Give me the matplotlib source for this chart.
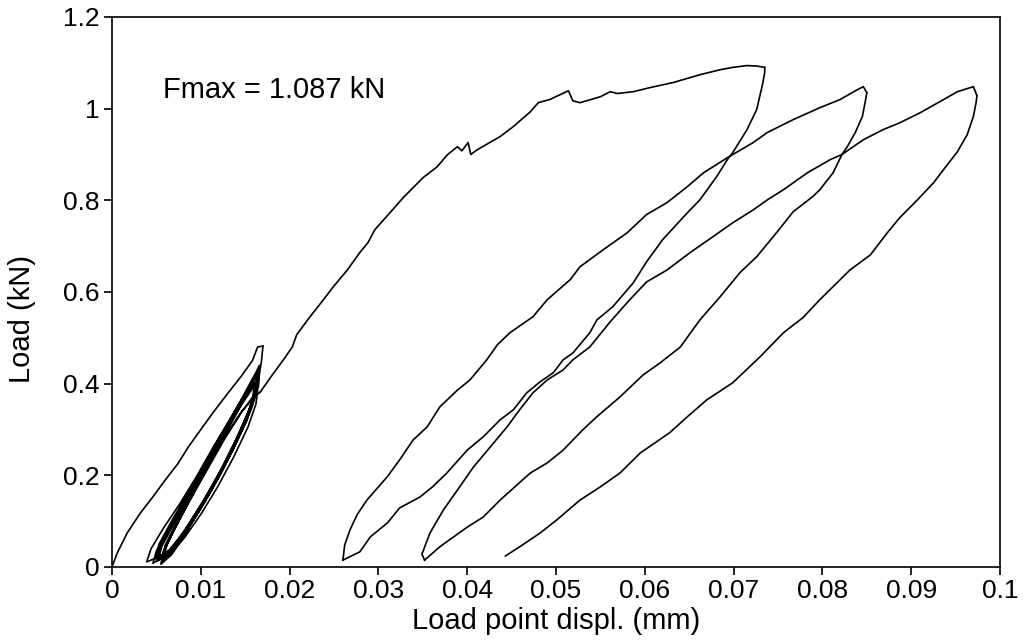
import matplotlib
matplotlib.use("Agg")
import matplotlib.pyplot as plt

plt.rcParams['font.family'] = ['Liberation Sans', 'DejaVu Sans']

# first ramp up to the first peak
ramp_x = [0.0, 0.0006, 0.0017, 0.0032, 0.0046, 0.0060, 0.0074, 0.0086, 0.0100, 0.0115, 0.0130, 0.0145, 0.0158, 0.0164, 0.0170]
ramp_y = [0.0, 0.031, 0.074, 0.118, 0.153, 0.190, 0.225, 0.262, 0.300, 0.340, 0.378, 0.415, 0.450, 0.480, 0.482]

# small cycles (unload / reload pairs)
cyc_x = [0.0170, 0.0168, 0.0163, 0.0150, 0.0132, 0.0110, 0.0086, 0.0062, 0.0039,
         0.0044, 0.0058, 0.0077, 0.0096, 0.0115, 0.0134, 0.0152, 0.0166,
         0.0165, 0.0158, 0.0143, 0.0125, 0.0105, 0.0083, 0.0064, 0.0046,
         0.0050, 0.0063, 0.0081, 0.0100, 0.0120, 0.0140, 0.0155, 0.0163,
         0.0162, 0.0153, 0.0138, 0.0120, 0.0100, 0.0080, 0.0066, 0.0052,
         0.0056, 0.0070, 0.0088, 0.0106, 0.0124, 0.0141, 0.0153, 0.0160,
         0.0158, 0.0148, 0.0132, 0.0115, 0.0097, 0.0080, 0.0068, 0.0057,
         0.0060, 0.0072, 0.0090, 0.0108, 0.0126, 0.0144, 0.0158, 0.0165,
         0.0164, 0.0156, 0.0140, 0.0122, 0.0103, 0.0082, 0.0065, 0.0049,
         0.0053, 0.0067, 0.0085, 0.0104, 0.0123, 0.0141, 0.0155, 0.0162,
         0.0161, 0.0152, 0.0136, 0.0118, 0.0099, 0.0080, 0.0066, 0.0055,
         0.0058, 0.0071, 0.0089, 0.0108, 0.0127, 0.0145, 0.0158, 0.0164,
         0.0162, 0.0153, 0.0137, 0.0119, 0.0100, 0.0082, 0.0069, 0.0058,
         0.0062, 0.0075, 0.0093, 0.0111, 0.0129, 0.0146, 0.0159, 0.0166,
         0.0165, 0.0157, 0.0141, 0.0123, 0.0104, 0.0083, 0.0066, 0.0050,
         0.0054, 0.0068, 0.0086, 0.0105, 0.0124, 0.0142, 0.0155, 0.0161,
         0.0160, 0.0151, 0.0135, 0.0117, 0.0098, 0.0080, 0.0067, 0.0056,
         0.0060, 0.0073, 0.0091, 0.0110, 0.0129, 0.0146, 0.0160, 0.0167]
cyc_y = [0.482, 0.445, 0.390, 0.320, 0.240, 0.160, 0.085, 0.030, 0.011,
         0.040, 0.085, 0.140, 0.200, 0.265, 0.325, 0.385, 0.440,
         0.410, 0.360, 0.290, 0.220, 0.150, 0.080, 0.030, 0.008,
         0.035, 0.080, 0.140, 0.205, 0.275, 0.340, 0.390, 0.420,
         0.390, 0.335, 0.270, 0.200, 0.135, 0.075, 0.035, 0.014,
         0.045, 0.095, 0.155, 0.220, 0.285, 0.340, 0.375, 0.395,
         0.360, 0.310, 0.245, 0.180, 0.120, 0.065, 0.030, 0.012,
         0.040, 0.090, 0.155, 0.225, 0.295, 0.360, 0.410, 0.430,
         0.400, 0.350, 0.280, 0.210, 0.145, 0.080, 0.038, 0.018,
         0.050, 0.100, 0.160, 0.225, 0.290, 0.350, 0.390, 0.405,
         0.375, 0.320, 0.255, 0.190, 0.125, 0.065, 0.025, 0.006,
         0.035, 0.085, 0.150, 0.215, 0.280, 0.335, 0.370, 0.385,
         0.355, 0.305, 0.240, 0.175, 0.115, 0.065, 0.035, 0.020,
         0.050, 0.100, 0.165, 0.230, 0.295, 0.355, 0.405, 0.425,
         0.395, 0.345, 0.275, 0.205, 0.140, 0.075, 0.032, 0.012,
         0.042, 0.092, 0.155, 0.220, 0.285, 0.345, 0.385, 0.400,
         0.370, 0.318, 0.252, 0.185, 0.122, 0.068, 0.033, 0.016,
         0.048, 0.098, 0.162, 0.228, 0.290, 0.340, 0.370, 0.382]

# big loading to Fmax
load_x = [0.0167, 0.0179, 0.0193, 0.0203, 0.0208, 0.0223, 0.0238, 0.0249, 0.0265, 0.0279, 0.0288,
          0.0296, 0.0313, 0.0328, 0.0350, 0.0366, 0.0378, 0.0389, 0.0394, 0.0401, 0.0404, 0.0411,
          0.0437, 0.0452, 0.0471, 0.0480, 0.0493, 0.0514, 0.0519, 0.0527, 0.0550, 0.0561, 0.0569,
          0.0587, 0.0606, 0.0632, 0.0662, 0.0685, 0.0699, 0.0715, 0.0726, 0.0735]
load_y = [0.382, 0.415, 0.452, 0.480, 0.507, 0.546, 0.583, 0.611, 0.648, 0.686, 0.707,
          0.736, 0.773, 0.806, 0.849, 0.873, 0.900, 0.917, 0.908, 0.926, 0.900, 0.910,
          0.939, 0.961, 0.993, 1.013, 1.020, 1.039, 1.017, 1.013, 1.026, 1.037, 1.033,
          1.037, 1.046, 1.057, 1.074, 1.085, 1.090, 1.094, 1.093, 1.090]

# unloading 1
unl1_x = [0.0735, 0.0735, 0.0733, 0.0726, 0.0715, 0.0699, 0.0693, 0.0681, 0.0662, 0.0648, 0.0620,
          0.0602, 0.0587, 0.0564, 0.0546, 0.0538, 0.0519, 0.0508, 0.0497, 0.0482, 0.0467, 0.0452,
          0.0437, 0.0418, 0.0400, 0.0377, 0.0361, 0.0347, 0.0324, 0.0310, 0.0291, 0.0279, 0.0260]
unl1_y = [1.090, 1.079, 1.057, 0.998, 0.954, 0.904, 0.889, 0.852, 0.801, 0.773, 0.714,
          0.666, 0.620, 0.568, 0.539, 0.511, 0.467, 0.452, 0.424, 0.404, 0.380, 0.343,
          0.321, 0.284, 0.255, 0.205, 0.175, 0.153, 0.129, 0.096, 0.066, 0.033, 0.015]

# reloading 2
rel2_x = [0.0260, 0.0262, 0.0268, 0.0276, 0.0287, 0.0310, 0.0324, 0.0339, 0.0355, 0.0369, 0.0389,
          0.0403, 0.0422, 0.0434, 0.0448, 0.0474, 0.0490, 0.0516, 0.0527, 0.0553, 0.0580, 0.0602,
          0.0625, 0.0648, 0.0666, 0.0693, 0.0722, 0.0738, 0.0767, 0.0797, 0.0820, 0.0839, 0.0846, 0.0850]
rel2_y = [0.015, 0.048, 0.081, 0.114, 0.146, 0.197, 0.234, 0.277, 0.306, 0.349, 0.386,
          0.408, 0.452, 0.485, 0.511, 0.546, 0.583, 0.627, 0.655, 0.692, 0.729, 0.769,
          0.795, 0.830, 0.860, 0.893, 0.926, 0.948, 0.976, 1.002, 1.020, 1.041, 1.048, 1.035]

# unloading 2
unl2_x = [0.0850, 0.0848, 0.0845, 0.0837, 0.0828, 0.0822, 0.0812, 0.0797, 0.0789, 0.0767, 0.0749,
          0.0726, 0.0707, 0.0685, 0.0662, 0.0640, 0.0617, 0.0598, 0.0572, 0.0546, 0.0530, 0.0508,
          0.0490, 0.0471, 0.0437, 0.0418, 0.0400, 0.0369, 0.0352]
unl2_y = [1.035, 1.013, 0.983, 0.948, 0.917, 0.900, 0.860, 0.823, 0.808, 0.775, 0.731,
          0.677, 0.642, 0.590, 0.539, 0.480, 0.445, 0.419, 0.371, 0.328, 0.299, 0.255,
          0.227, 0.205, 0.146, 0.109, 0.087, 0.044, 0.015]

# reloading 3
rel3_x = [0.0352, 0.0349, 0.0358, 0.0373, 0.0389, 0.0407, 0.0426, 0.0445, 0.0459, 0.0474, 0.0490,
          0.0508, 0.0519, 0.0538, 0.0561, 0.0583, 0.0602, 0.0625, 0.0651, 0.0677, 0.0699, 0.0722,
          0.0738, 0.0756, 0.0783, 0.0809, 0.0822, 0.0846, 0.0868, 0.0887, 0.0910, 0.0932, 0.0952,
          0.0970, 0.0974]
rel3_y = [0.015, 0.028, 0.074, 0.124, 0.168, 0.218, 0.262, 0.306, 0.343, 0.380, 0.408,
          0.430, 0.452, 0.480, 0.535, 0.583, 0.622, 0.648, 0.686, 0.721, 0.751, 0.779,
          0.801, 0.823, 0.860, 0.889, 0.900, 0.932, 0.954, 0.969, 0.991, 1.015, 1.037,
          1.048, 1.028]

# unloading 3
unl3_x = [0.0974, 0.0973, 0.0970, 0.0963, 0.0952, 0.0938, 0.0925, 0.0907, 0.0887, 0.0873, 0.0854,
          0.0831, 0.0797, 0.0778, 0.0756, 0.0730, 0.0699, 0.0670, 0.0648, 0.0628, 0.0595, 0.0572,
          0.0550, 0.0527, 0.0501, 0.0482, 0.0459, 0.0443]
unl3_y = [1.028, 1.013, 0.983, 0.943, 0.906, 0.871, 0.838, 0.801, 0.762, 0.729, 0.681,
          0.648, 0.583, 0.544, 0.511, 0.459, 0.402, 0.365, 0.328, 0.293, 0.249, 0.205,
          0.175, 0.146, 0.103, 0.074, 0.044, 0.024]

x_ticks = [0, 0.01, 0.02, 0.03, 0.04, 0.05, 0.06, 0.07, 0.08, 0.09, 0.1]
x_labels = ['0', '0.01', '0.02', '0.03', '0.04', '0.05', '0.06', '0.07', '0.08', '0.09', '0.1']
y_ticks = [0, 0.2, 0.4, 0.6, 0.8, 1.0, 1.2]
y_labels = ['0', '0.2', '0.4', '0.6', '0.8', '1', '1.2']

fig = plt.figure(figsize=(10.24, 6.43), dpi=100)
ax = fig.add_axes([0.1094, 0.1182, 0.8672, 0.8554])

segments = [(ramp_x, ramp_y), (cyc_x, cyc_y), (load_x, load_y), (unl1_x, unl1_y),
            (rel2_x, rel2_y), (unl2_x, unl2_y), (rel3_x, rel3_y), (unl3_x, unl3_y)]
for xs, ys in segments:
    ax.plot(xs, ys, color='black', lw=1.2, solid_joinstyle='round')

ax.set_xlim(0, 0.1)
ax.set_ylim(0, 1.2)
ax.set_xticks(x_ticks)
ax.set_xticklabels(x_labels)
ax.set_yticks(y_ticks)
ax.set_yticklabels(y_labels)
ax.tick_params(direction='out', length=6, width=1.2, labelsize=19, pad=3, colors='black')
for sp in ax.spines.values():
    sp.set_linewidth(1.2)

ax.set_xlabel('Load point displ. (mm)', fontsize=21)
ax.set_ylabel('Load (kN)', fontsize=21)
ax.xaxis.set_label_coords(0.5, -0.072)
ax.yaxis.set_label_coords(-0.086, 0.45)

ax.text(0.0057, 1.041, 'Fmax = 1.087 kN', fontsize=21, va='center', ha='left')

fig.savefig('out.png', dpi=100)
